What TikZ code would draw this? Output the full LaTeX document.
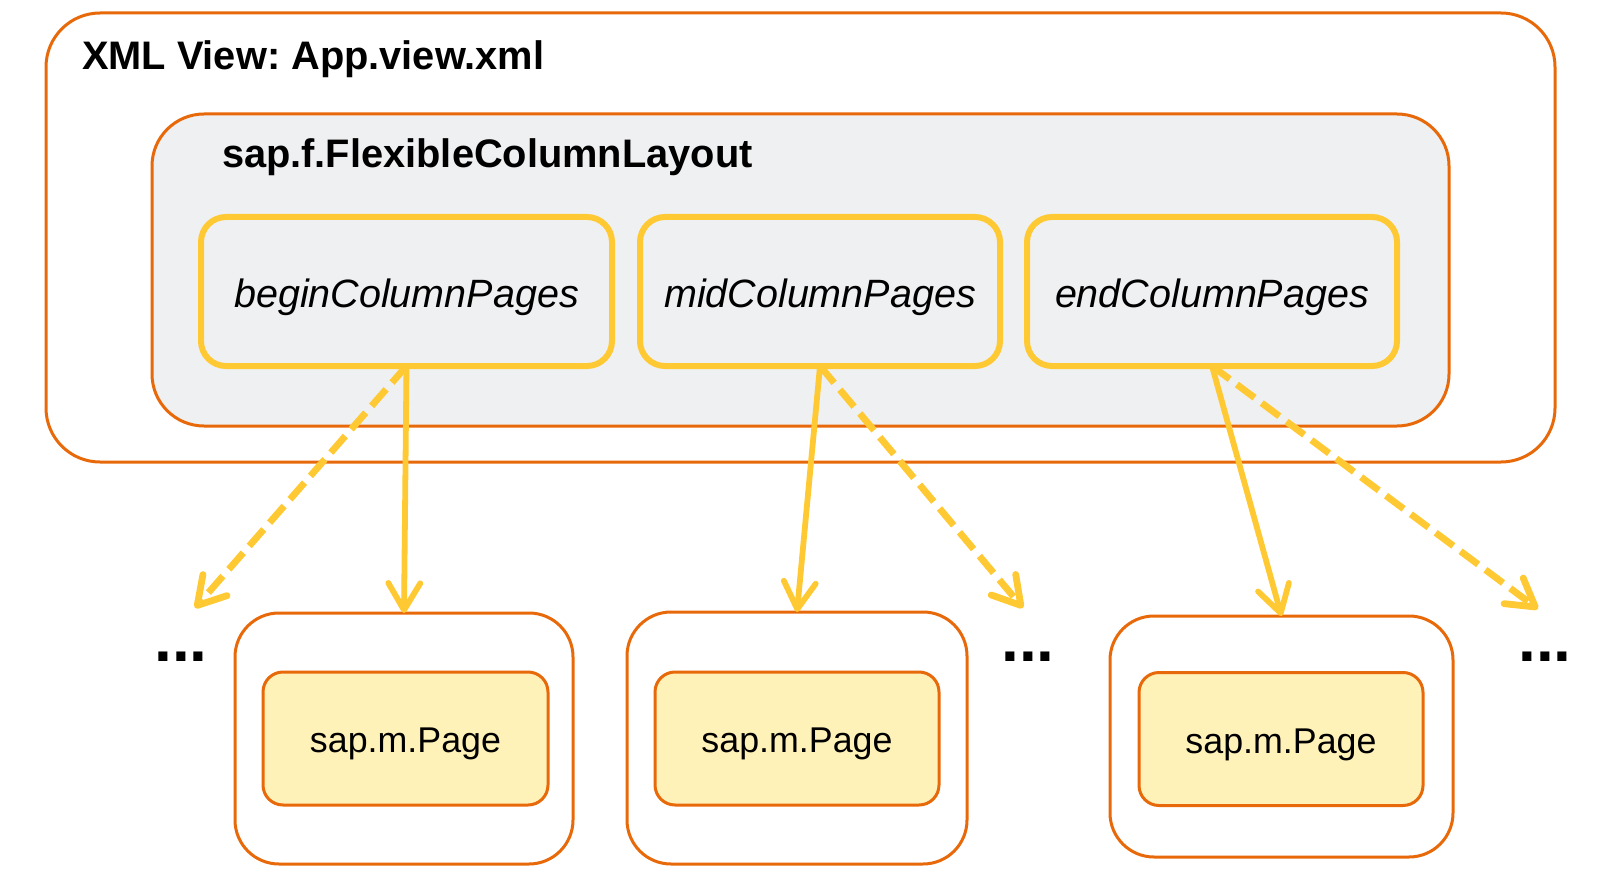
\documentclass[tikz,border=0pt]{standalone}
\usepackage{fontspec}
\setmainfont{Liberation Sans}
\usetikzlibrary{arrows.meta}
\definecolor{orng}{HTML}{E8690A}
\definecolor{ylw}{HTML}{FFC933}
\definecolor{grayfill}{HTML}{EFF0F2}
\definecolor{pagefill}{HTML}{FFF2B8}
\frenchspacing
\begin{document}
\begin{tikzpicture}[x=0.5pt,y=-0.5pt,
  every node/.style={inner sep=0pt, outer sep=0pt},
  outerbox/.style={draw=orng, line width=1.5pt, rounded corners=27pt, fill=white},
  graybox/.style={draw=orng, line width=1.5pt, rounded corners=26pt, fill=grayfill},
  colbox/.style={draw=ylw, line width=3pt, rounded corners=12.5pt, minimum height=74.5pt},
  pagebox/.style={draw=orng, line width=1.5pt, rounded corners=22pt, fill=white},
  innerbox/.style={draw=orng, line width=1.5pt, rounded corners=10pt, fill=pagefill, minimum height=66.5pt},
  titletext/.style={anchor=base west, font=\fontsize{19.9pt}{24pt}\selectfont\bfseries},
  coltext/.style={anchor=base, font=\fontsize{19.75pt}{24pt}\selectfont\itshape},
  pagetext/.style={anchor=base, font=\fontsize{17.9pt}{21pt}\selectfont},
  dotstext/.style={anchor=base, font=\fontsize{32pt}{36pt}\selectfont\bfseries},
  arr/.style={draw=ylw, line width=2.9pt, -{Straight Barb[length=13.5pt,width=16pt,round]}},
  dsh/.style={arr, line width=3.4pt, dash pattern=on 11pt off 4.5pt}
]
\useasboundingbox (0,0) rectangle (1600,877);

% outer view
\node[outerbox, minimum width=754.5pt, minimum height=224.5pt] (outer) at (800.5,237.5) {};
\node[titletext] (outertitle) at (82,70) {XML View: App.view.xml};

% flexible column layout
\node[graybox, minimum width=648.5pt, minimum height=156pt] (fcl) at (800.5,270) {};
\node[titletext] (fcltitle) at (222,168) {sap.f.FlexibleColumnLayout};

% column aggregations
\node[colbox, minimum width=205.5pt] (b1) at (406.5,291.5) {};
\node[colbox, minimum width=180pt] (b2) at (820,291.5) {};
\node[colbox, minimum width=185pt] (b3) at (1212,291.5) {};
\node[coltext] (b1t) at (406.5,307) {beginColumnPages};
\node[coltext] (b2t) at (820,307) {midColumnPages};
\node[coltext] (b3t) at (1212,307) {endColumnPages};

% pages
\node[pagebox, minimum width=169pt, minimum height=125.5pt] (p1) at (404,738.5) {};
\node[pagebox, minimum width=170pt, minimum height=126pt] (p2) at (797,738) {};
\node[pagebox, minimum width=171.5pt, minimum height=120.5pt] (p3) at (1281.5,736.5) {};
\node[innerbox, minimum width=142.5pt] (i1) at (405.5,738.5) {};
\node[innerbox, minimum width=142pt] (i2) at (797,738.5) {};
\node[innerbox, minimum width=142pt] (i3) at (1281,739) {};
\node[pagetext] (i1t) at (405.5,752) {sap.m.Page};
\node[pagetext] (i2t) at (797,752) {sap.m.Page};
\node[pagetext] (i3t) at (1281,753) {sap.m.Page};

% ellipses
\node[dotstext] (e1) at (181,661) {...};
\node[dotstext] (e2) at (1028,661) {...};
\node[dotstext] (e3) at (1545,661) {...};

% free ends of dashed arrows
\coordinate (d1) at (195,608);
\coordinate (d2) at (1023,608);
\coordinate (d3) at (1538,609);

% arrows
\draw[arr] (b1.south) -- (p1.north);
\draw[dsh] (b1.south) -- (d1);
\draw[arr] (b2.south) -- (p2.north);
\draw[dsh] (b2.south) -- (d2);
\draw[arr] (b3.south) -- (p3.north);
\draw[dsh] (b3.south) -- (d3);
\end{tikzpicture}
\end{document}
